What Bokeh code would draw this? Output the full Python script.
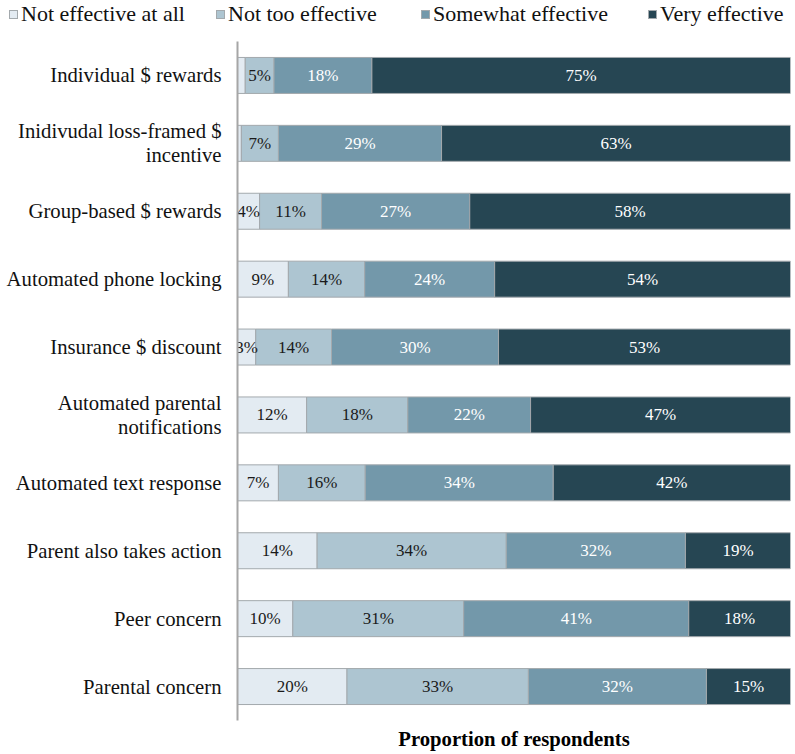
from bokeh.plotting import figure
from bokeh.layouts import column
from bokeh.models import ColumnDataSource, FactorRange, Range1d, FixedTicker, Div
from bokeh.core.properties import value
from bokeh.embed import file_html
from bokeh.resources import INLINE

categories = [
    "Individual $ rewards",
    "Inidivudal loss-framed $\nincentive",
    "Group-based $ rewards",
    "Automated phone locking",
    "Insurance $ discount",
    "Automated parental\nnotifications",
    "Automated text response",
    "Parent also takes action",
    "Peer concern",
    "Parental concern",
]

series_names = ["Not effective at all", "Not too effective", "Somewhat effective", "Very effective"]

not_at_all = [1.4, 0.7, 4.0, 9.2, 3.3, 12.5, 7.4, 14.4, 10.0, 19.8]
not_too = [5.2, 6.7, 11.2, 13.8, 13.7, 18.3, 15.7, 34.2, 30.9, 32.8]
somewhat = [17.7, 29.5, 26.8, 23.5, 30.2, 22.2, 34.0, 32.4, 40.7, 32.2]
very = [75.7, 63.1, 58.0, 53.5, 52.8, 47.0, 42.9, 19.0, 18.4, 15.2]

lbl_not_at_all = ["", "", "4%", "9%", "3%", "12%", "7%", "14%", "10%", "20%"]
lbl_not_too = ["5%", "7%", "11%", "14%", "14%", "18%", "16%", "34%", "31%", "33%"]
lbl_somewhat = ["18%", "29%", "27%", "24%", "30%", "22%", "34%", "32%", "41%", "32%"]
lbl_very = ["75%", "63%", "58%", "54%", "53%", "47%", "42%", "19%", "18%", "15%"]

colors = ["#e3ebf2", "#adc5d1", "#7398aa", "#264653"]
text_colors = ["#1a1a1a", "#1a1a1a", "#ffffff", "#ffffff"]
EDGE = "#a3a9ad"
SERIF = "Liberation Serif"

keys = ["s0", "s1", "s2", "s3"]
series_vals = [not_at_all, not_too, somewhat, very]
series_lbls = [lbl_not_at_all, lbl_not_too, lbl_somewhat, lbl_very]

data = {"cat": categories}
for k, v in zip(keys, series_vals):
    data[k] = v
source = ColumnDataSource(data)

# ---- legend strip (HTML) ----
LEG_H = 30
legend_left = [9, 216, 421, 648]
items = []
for name, c, x in zip(series_names, colors, legend_left):
    items.append(
        f'<div style="position:absolute;left:{x}px;top:2px;height:24px;'
        f'display:flex;align-items:center;white-space:nowrap;">'
        f'<span style="display:inline-block;width:9px;height:9px;background:{c};'
        f'border:1px solid {EDGE};margin-right:3px;"></span>{name}</div>'
    )
legend_div = Div(
    text=(f'<div style="position:relative;width:792px;height:{LEG_H}px;'
          f"font-family:'Liberation Serif',serif;font-size:22px;line-height:24px;"
          f'color:#111111;">' + "".join(items) + "</div>"),
    width=792, height=LEG_H, margin=(0, 0, 0, 0),
)

# ---- main chart ----
p = figure(
    width=792, height=752 - LEG_H,
    y_range=FactorRange(factors=categories[::-1]),
    x_range=Range1d(0, 100),
    output_backend="svg", toolbar_location=None,
    min_border_left=237, min_border_right=2,
    min_border_top=41 - LEG_H, min_border_bottom=31,
)

p.hbar_stack(keys, y="cat", height=0.53, color=colors, line_color=EDGE,
             line_width=1, source=source)

cum = [0.0] * len(categories)
for vals, lbls, tc in zip(series_vals, series_lbls, text_colors):
    centers = [c + v / 2 for c, v in zip(cum, vals)]
    cum = [c + v for c, v in zip(cum, vals)]
    src = ColumnDataSource(dict(x=centers, y=categories, t=lbls))
    p.text(x="x", y="y", text="t", source=src, text_align="center",
           text_baseline="middle", text_font=value(SERIF),
           text_font_size="17px", text_color=tc)

# x axis: only the title
p.xaxis.ticker = FixedTicker(ticks=[])
p.xaxis.axis_line_color = None
p.xaxis.major_tick_line_color = None
p.xaxis.minor_tick_line_color = None
p.xaxis.major_tick_out = 0
p.xaxis.major_tick_in = 0
p.xaxis.minor_tick_out = 0
p.xaxis.axis_label = "Proportion of respondents"
p.xaxis.axis_label_text_font = SERIF
p.xaxis.axis_label_text_font_size = "20.7px"
p.xaxis.axis_label_text_font_style = "bold"
p.xaxis.axis_label_text_color = "#000000"
p.xaxis.axis_label_standoff = 7

# y axis (two-line labels: second line centred under the first)
PAD = "\u00a0\u200b"
p.yaxis.major_label_overrides = {
    categories[1]: "Inidivudal loss-framed $\nincentive" + PAD * 12,
    categories[5]: "Automated parental\nnotifications" + PAD * 6,
}
p.yaxis.axis_line_color = "#a6a6a6"
p.yaxis.axis_line_width = 2
p.yaxis.major_tick_line_color = None
p.yaxis.minor_tick_line_color = None
p.yaxis.major_tick_out = 0
p.yaxis.major_tick_in = 0
p.yaxis.major_label_standoff = 16
p.yaxis.major_label_text_font = SERIF
p.yaxis.major_label_text_font_size = "20.7px"
p.yaxis.major_label_text_color = "#111111"
p.yaxis.major_label_text_line_height = 1.1

p.xgrid.visible = False
p.ygrid.visible = False
p.outline_line_color = None

layout = column(legend_div, p, spacing=0)
open("out.html", "w").write(file_html(layout, INLINE))
